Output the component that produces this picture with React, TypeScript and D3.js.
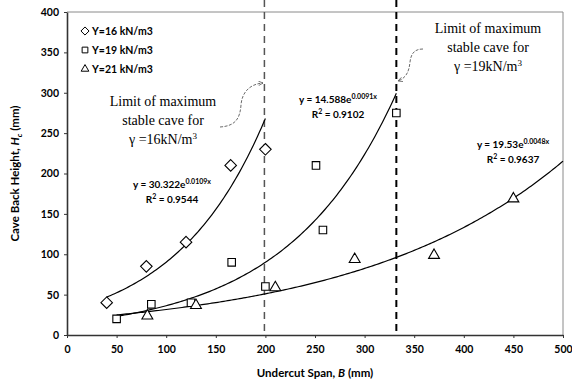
import { useEffect, useRef } from 'react';
import * as d3 from 'd3';

// series data
const series16X = [40, 80, 120, 165, 200];
const series16Y = [40, 85, 115, 210, 230];
const series19X = [50, 85, 125, 166, 200, 251, 258, 332];
const series19Y = [20, 38, 40, 90, 60, 210, 130, 275];
const series21X = [81, 130, 210, 290, 370, 450];
const series21Y = [25, 38, 60, 95, 100, 170];

const legendLabels = ['Υ=16 kN/m3', 'Υ=19 kN/m3', 'Υ=21 kN/m3'];
const fitA = [30.322, 14.588, 19.53];
const fitB = [0.0109, 0.0091, 0.0048];
const fitRange = [[40, 200], [50, 332], [50, 500]];
const fitR2 = ['0.9544', '0.9102', '0.9637'];
const limitX = [199, 332];
const xTicks = [0, 50, 100, 150, 200, 250, 300, 350, 400, 450, 500];
const yTicks = [0, 50, 100, 150, 200, 250, 300, 350, 400];

function App() {
  const svgRef = useRef<SVGSVGElement>(null);

  useEffect(() => {
    const svg = d3.select(svgRef.current);
    svg.selectAll('*').remove();

    const left = 67, right = 563, top = 12, bottom = 335;
    const x = d3.scaleLinear().domain([0, 500]).range([left, right]);
    const y = d3.scaleLinear().domain([0, 400]).range([bottom, top]);
    const sans = 'Lato, "Open Sans", sans-serif';
    const serif = '"Liberation Serif", "Times New Roman", serif';

    // frame (top + right)
    svg.append('path')
      .attr('d', `M${left},${top}H${right}V${bottom}`)
      .attr('fill', 'none')
      .attr('stroke', '#8a8a8a')
      .attr('stroke-width', 1);

    // dashed limit lines
    limitX.forEach((v, i) => {
      svg.append('line')
        .attr('x1', x(v)).attr('x2', x(v))
        .attr('y1', 0).attr('y2', bottom)
        .attr('stroke', i === 0 ? '#555' : '#000')
        .attr('stroke-width', i === 0 ? 1.5 : 2)
        .attr('stroke-dasharray', '7,5');
    });

    // axes
    const xAxis = svg.append('g')
      .attr('transform', `translate(0,${bottom})`)
      .call(d3.axisBottom(x).tickValues(xTicks).tickSize(3).tickSizeOuter(0));
    const yAxis = svg.append('g')
      .attr('transform', `translate(${left},0)`)
      .call(d3.axisLeft(y).tickValues(yTicks).tickSize(3).tickSizeOuter(0));
    [xAxis, yAxis].forEach((g) => {
      g.select('.domain').attr('stroke', '#333').attr('stroke-width', 1.6);
      g.selectAll('.tick line').attr('stroke', '#333');
      g.selectAll('.tick text')
        .style('font-family', sans)
        .style('font-weight', 'bold')
        .style('font-size', '10.5px')
        .attr('fill', '#000');
    });
    xAxis.selectAll('.tick text').attr('dy', '1.15em');
    yAxis.selectAll('.tick text').attr('x', -8);

    // axis titles
    const xTitle = svg.append('text')
      .attr('x', 315).attr('y', 377)
      .attr('text-anchor', 'middle')
      .style('font-family', sans).style('font-weight', 'bold').style('font-size', '11.5px');
    xTitle.append('tspan').text('Undercut Span, ');
    xTitle.append('tspan').attr('font-style', 'italic').text('B');
    xTitle.append('tspan').text(' (mm)');

    const yTitle = svg.append('text')
      .attr('transform', `translate(19,${(top + bottom) / 2}) rotate(-90)`)
      .attr('text-anchor', 'middle')
      .style('font-family', sans).style('font-weight', 'bold').style('font-size', '11.5px');
    yTitle.append('tspan').text('Cave Back Height, ');
    yTitle.append('tspan').attr('font-style', 'italic').text('H');
    yTitle.append('tspan').attr('font-style', 'italic').attr('font-size', '8px').attr('dy', 3).text('c');
    yTitle.append('tspan').attr('dy', -3).text(' (mm)');

    // fitted curves
    const line = d3.line<number>().x((d) => x(d[0])).y((d) => y(d[1])).curve(d3.curveLinear);
    fitA.forEach((a, i) => {
      const [x0, x1] = fitRange[i];
      const pts = d3.range(x0, x1 + 0.1, 2).map((v) => [v, a * Math.exp(fitB[i] * v)]);
      svg.append('path')
        .datum(pts)
        .attr('d', line as any)
        .attr('fill', 'none')
        .attr('stroke', '#000')
        .attr('stroke-width', 1.2);
    });

    // markers
    const sym = [d3.symbolDiamond2, d3.symbolSquare2, d3.symbolTriangle2];
    const sizes = [85, 72, 85];
    const sets = [
      [series16X, series16Y],
      [series19X, series19Y],
      [series21X, series21Y],
    ];
    sets.forEach(([xs, ys], i) => {
      svg.append('g')
        .selectAll('path')
        .data(xs)
        .enter()
        .append('path')
        .attr('d', d3.symbol().type(sym[i]).size(sizes[i])() as string)
        .attr('transform', (d, j) => `translate(${x(d)},${y(ys[j]) + (i === 2 ? 1 : 0)})`)
        .attr('fill', '#fff')
        .attr('stroke', '#000')
        .attr('stroke-width', 1.1);
    });

    // legend
    const legend = svg.append('g').attr('transform', 'translate(85,31)');
    legendLabels.forEach((lab, i) => {
      const g = legend.append('g').attr('transform', `translate(0,${i * 19})`);
      g.append('path')
        .attr('d', d3.symbol().type(sym[i]).size(42)() as string)
        .attr('fill', '#fff').attr('stroke', '#000').attr('stroke-width', 1);
      g.append('text')
        .attr('x', 7).attr('dy', '0.35em')
        .style('font-family', sans).style('font-weight', 'bold').style('font-size', '10.5px')
        .text(lab);
    });

    // equation labels
    const eqPos = [[172, 188], [338, 103], [513, 148]];
    fitA.forEach((a, i) => {
      const [ex, ey] = eqPos[i];
      const t = svg.append('text')
        .attr('x', ex).attr('y', ey)
        .attr('text-anchor', 'middle')
        .style('font-family', sans).style('font-weight', 'bold').style('font-size', '10px');
      t.append('tspan').text(`y = ${a}e`);
      t.append('tspan').attr('font-size', '7px').attr('dy', -4).text(`${fitB[i]}x`);
      const r = svg.append('text')
        .attr('x', ex).attr('y', ey + 15)
        .attr('text-anchor', 'middle')
        .style('font-family', sans).style('font-weight', 'bold').style('font-size', '10px');
      r.append('tspan').text('R');
      r.append('tspan').attr('font-size', '7px').attr('dy', -4).text('2');
      r.append('tspan').attr('dy', 4).text(` = ${fitR2[i]}`);
    });

    // annotations
    const notes = [
      { cx: 163, cy: 106, g: '16' },
      { cx: 488, cy: 33, g: '19' },
    ];
    notes.forEach((n) => {
      const t = svg.append('text')
        .attr('text-anchor', 'middle')
        .style('font-family', serif).style('font-size', '14px');
      t.append('tspan').attr('x', n.cx).attr('y', n.cy).text('Limit of maximum');
      t.append('tspan').attr('x', n.cx).attr('y', n.cy + 19).text('stable cave for');
      t.append('tspan').attr('x', n.cx).attr('y', n.cy + 38).text(`γ =${n.g}kN/m`);
      t.append('tspan').attr('font-size', '9px').attr('dy', -5).text('3');
    });

    // curly arrows
    const defs = svg.append('defs');
    defs.append('marker')
      .attr('id', 'arr')
      .attr('viewBox', '0 0 10 10')
      .attr('refX', 9).attr('refY', 5)
      .attr('markerWidth', 7).attr('markerHeight', 7)
      .attr('orient', 'auto')
      .append('path')
      .attr('d', 'M1,1L9,5L1,9')
      .attr('fill', 'none').attr('stroke', '#444').attr('stroke-width', 1.2);

    svg.append('path')
      .attr('d', 'M220,127 C236,126 240,118 241,105 C242,92 250,84 263,83')
      .attr('fill', 'none').attr('stroke', '#444').attr('stroke-width', 0.8)
      .attr('stroke-dasharray', '3,1.5')
      .attr('marker-end', 'url(#arr)');
    svg.append('path')
      .attr('d', 'M423,49 C414,49 411,54 410,62 C409,72 406,78 398,81')
      .attr('fill', 'none').attr('stroke', '#444').attr('stroke-width', 0.8)
      .attr('stroke-dasharray', '3,1.5')
      .attr('marker-end', 'url(#arr)');
  }, []);

  return (
    <svg
      ref={svgRef}
      width={572}
      height={386}
      style={{ position: 'absolute', left: 0, top: 0, background: '#fff' }}
    />
  );
}

export default App;
